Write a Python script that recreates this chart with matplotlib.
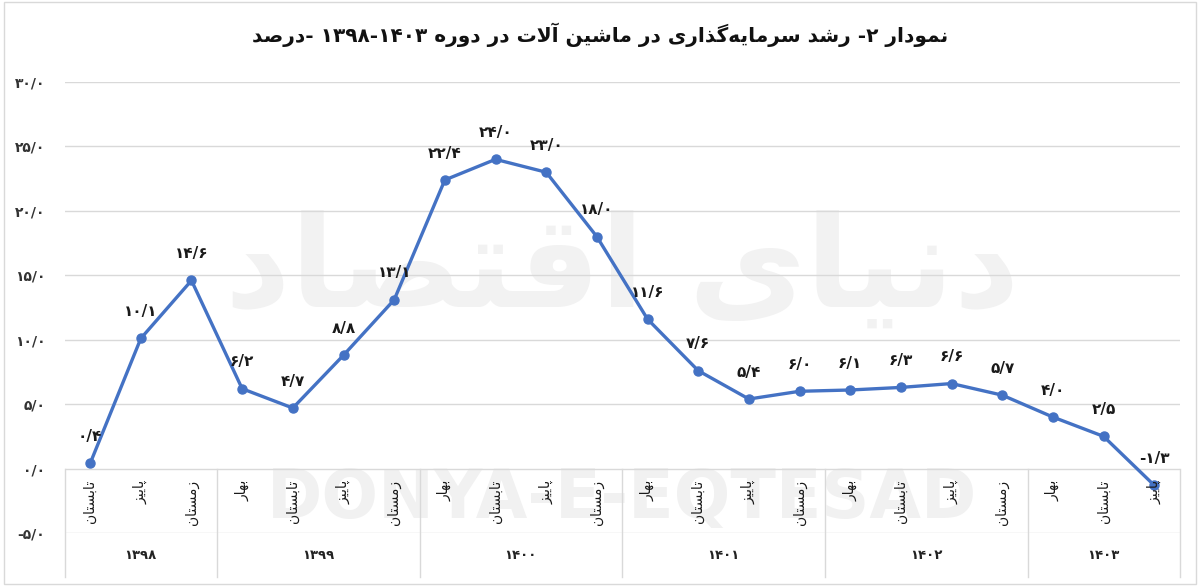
import re
import matplotlib
matplotlib.use("Agg")
import matplotlib.pyplot as plt
from matplotlib.patches import Rectangle
from matplotlib.transforms import blended_transform_factory

# data
seasons = ["تابستان", "پاییز", "زمستان",
           "بهار", "تابستان", "پاییز", "زمستان",
           "بهار", "تابستان", "پاییز", "زمستان",
           "بهار", "تابستان", "پاییز", "زمستان",
           "بهار", "تابستان", "پاییز", "زمستان",
           "بهار", "تابستان", "پاییز"]
point_years = [1398] * 3 + [1399] * 4 + [1400] * 4 + [1401] * 4 + [1402] * 4 + [1403] * 3
growth = [0.4, 10.1, 14.6,
          6.2, 4.7, 8.8, 13.1,
          22.4, 24.0, 23.0, 18.0,
          11.6, 7.6, 5.4, 6.0,
          6.1, 6.3, 6.6, 5.7,
          4.0, 2.5, -1.3]
y_ticks = [-5, 0, 5, 10, 15, 20, 25, 30]
title = "نمودار ۲- رشد سرمایه\u200cگذاری در ماشین آلات در دوره ۱۳۹۸-۱۴۰۳ -درصد"

# simple persian shaping (matplotlib does no arabic shaping / bidi)
FORMS = {
    "ا": ("\uFE8D", "\uFE8E", None, None),
    "آ": ("\uFE81", "\uFE82", None, None),
    "د": ("\uFEA9", "\uFEAA", None, None),
    "ذ": ("\uFEAB", "\uFEAC", None, None),
    "ر": ("\uFEAD", "\uFEAE", None, None),
    "ز": ("\uFEAF", "\uFEB0", None, None),
    "و": ("\uFEED", "\uFEEE", None, None),
    "ب": ("\uFE8F", "\uFE90", "\uFE91", "\uFE92"),
    "ت": ("\uFE95", "\uFE96", "\uFE97", "\uFE98"),
    "س": ("\uFEB1", "\uFEB2", "\uFEB3", "\uFEB4"),
    "ش": ("\uFEB5", "\uFEB6", "\uFEB7", "\uFEB8"),
    "ص": ("\uFEB9", "\uFEBA", "\uFEBB", "\uFEBC"),
    "ق": ("\uFED5", "\uFED6", "\uFED7", "\uFED8"),
    "ل": ("\uFEDD", "\uFEDE", "\uFEDF", "\uFEE0"),
    "م": ("\uFEE1", "\uFEE2", "\uFEE3", "\uFEE4"),
    "ن": ("\uFEE5", "\uFEE6", "\uFEE7", "\uFEE8"),
    "ه": ("\uFEE9", "\uFEEA", "\uFEEB", "\uFEEC"),
    "ی": ("\uFBFC", "\uFBFD", "\uFBFE", "\uFBFF"),
    "پ": ("\uFB56", "\uFB57", "\uFB58", "\uFB59"),
    "گ": ("\uFB92", "\uFB93", "\uFB94", "\uFB95"),
}
LAM_ALEF = {"ا": ("\uFEFB", "\uFEFC"), "آ": ("\uFEF5", "\uFEF6")}
FA_DIGITS = str.maketrans("0123456789", "۰۱۲۳۴۵۶۷۸۹")


def joins_left(c):
    return c in FORMS and FORMS[c][2] is not None


def shape(text):
    out = []
    i = 0
    while i < len(text):
        c = text[i]
        prev = text[i - 1] if i > 0 else None
        nxt = text[i + 1] if i + 1 < len(text) else None
        if c not in FORMS:
            out.append(c)
            i += 1
            continue
        jp = joins_left(prev) if prev else False
        if c == "ل" and nxt in LAM_ALEF:
            out.append(LAM_ALEF[nxt][1 if jp else 0])
            i += 2
            continue
        jn = joins_left(c) and nxt in FORMS
        iso, fin, ini, med = FORMS[c]
        if jp and jn:
            out.append(med)
        elif jp:
            out.append(fin)
        elif jn:
            out.append(ini)
        else:
            out.append(iso)
        i += 1
    return "".join(out).replace("\u200c", "")


def fa(text):
    vis = shape(text)[::-1]
    return re.sub(r"[۰-۹]+(?:[-/][۰-۹]+)*", lambda m: m.group()[::-1], vis)


def fa_num(v):
    return f"{v:.1f}".replace(".", "/").translate(FA_DIGITS)


plt.rcParams["font.family"] = ["DejaVu Sans"]

fig = plt.figure(figsize=(12, 5.86), dpi=100)
ax = fig.add_axes([0.054, 0.0904, 0.929, 0.7696])

x = list(range(len(growth)))
ax.set_xlim(-0.5, len(growth) - 0.5)
ax.set_ylim(-5, 30)

# watermarks
ax.text(0.5, 0.58, fa("دنیای اقتصاد"), transform=ax.transAxes, fontsize=92,
        color="#f2f2f2", ha="center", va="center", fontweight="bold", zorder=0)
ax.text(0.5, 0.075, "DONYA-E-EQTESAD", transform=ax.transAxes, fontsize=48,
        fontweight="bold", color="#f1f1f1", ha="center", va="center", zorder=0)

for t in y_ticks[2:]:
    ax.axhline(t, color="#d9d9d9", lw=1, zorder=1)
ax.axhline(0, color="#d9d9d9", lw=1, zorder=1)
ax.axhline(-5, color="#d9d9d9", lw=1, zorder=1)

ax.plot(x, growth, color="#4472C4", lw=2.4, marker="o", markersize=6.5, zorder=3)

for xi, v in zip(x, growth):
    ax.annotate(fa_num(v), (xi, v), xytext=(0, 14), textcoords="offset points",
                ha="center", va="bottom", fontsize=11, fontweight="bold", color="#1a1a1a",
                zorder=4)

for xi, s in zip(x, seasons):
    ax.annotate(fa(s), (xi, 0), xytext=(0, -8), textcoords="offset points",
                ha="center", va="top", rotation=90, fontsize=10, color="#1a1a1a")

# year groups
trans = blended_transform_factory(ax.transData, ax.transAxes)
bounds = [-0.5]
for i in range(1, len(point_years)):
    if point_years[i] != point_years[i - 1]:
        bounds.append(i - 0.5)
bounds.append(len(point_years) - 0.5)
for b in bounds:
    ax.plot([b, b], [5 / 35, -0.098], transform=trans, color="#d9d9d9", lw=1,
            clip_on=False, zorder=1)
for a, b in zip(bounds[:-1], bounds[1:]):
    yr = point_years[int(a + 0.5)]
    ax.text((a + b) / 2, -0.05, str(yr).translate(FA_DIGITS), transform=trans,
            ha="center", va="center", fontsize=9.5, fontweight="bold", color="#222222")

ax.set_xticks([])
ax.set_yticks(y_ticks)
ax.set_yticklabels([fa_num(t) for t in y_ticks], fontsize=10, fontweight="bold",
                   color="#333333")
ax.tick_params(axis="y", length=0, pad=14)
for sp in ax.spines.values():
    sp.set_visible(False)

fig.text(0.5, 0.94, fa(title), ha="center", va="center", fontsize=14.5,
         fontweight="bold", color="#111111")

fig.patches.append(Rectangle((0.003, 0.003), 0.994, 0.994, transform=fig.transFigure,
                             fill=False, edgecolor="#d9d9d9", lw=1))

fig.savefig("out.png", dpi=100)
